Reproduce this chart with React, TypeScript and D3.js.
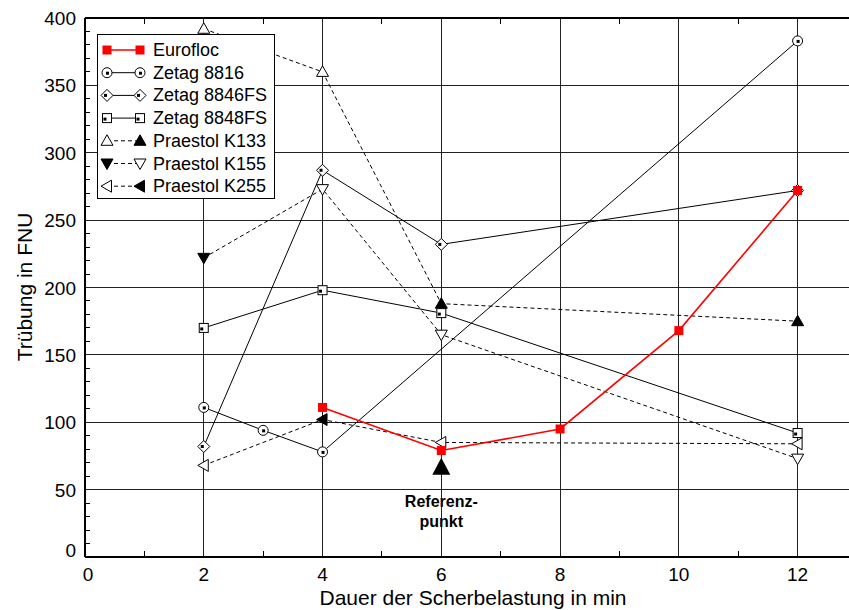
import React, { useEffect, useRef } from "react";
import * as d3 from "d3";

// Messwerte (Dauer in min / Trübung in FNU)
const EUROFLOC_X = [4, 6, 8, 10, 12];
const EUROFLOC_Y = [111, 79, 95, 168, 272];
const Z8816_X = [2, 3, 4, 12];
const Z8816_Y = [111, 94, 78, 383];
const Z8846_X = [2, 4, 6, 12];
const Z8846_Y = [82, 287, 232, 272];
const Z8848_X = [2, 4, 6, 12];
const Z8848_Y = [170, 198, 181, 92];
const K133_X = [2, 4, 6, 12];
const K133_Y = [392, 360, 188, 175];
const K133_FILLED = [false, false, true, true];
const K155_X = [2, 4, 6, 12];
const K155_Y = [222, 273, 165, 73];
const K155_FILLED = [true, false, false, false];
const K255_X = [2, 4, 6, 12];
const K255_Y = [68, 102, 85, 84];
const K255_FILLED = [false, true, false, false];

const REF_X = 6;
const REF_Y = 67;

const X_TICKS = [0, 2, 4, 6, 8, 10, 12];
const Y_TICKS = [0, 50, 100, 150, 200, 250, 300, 350, 400];

const LEGEND = ["Eurofloc", "Zetag 8816", "Zetag 8846FS", "Zetag 8848FS", "Praestol K133", "Praestol K155", "Praestol K255"];

type Marker = "redsq" | "circle" | "diamond" | "square" | "up" | "down" | "left";

const FONT = "'Liberation Sans', Arial, sans-serif";

const App: React.FC = () => {
  const ref = useRef<SVGSVGElement>(null);

  useEffect(() => {
    if (!ref.current) return;
    const svg = d3.select(ref.current);
    svg.selectAll("*").remove();

    const x = d3.scaleLinear().domain([0, 13]).range([85, 857]);
    const y = d3.scaleLinear().domain([0, 400]).range([557, 18]);

    const grid = svg.append("g").attr("shape-rendering", "crispEdges");
    // Gitterlinien
    grid.selectAll("line.h").data(Y_TICKS.slice(1)).enter().append("line")
      .attr("x1", x(0)).attr("x2", 849)
      .attr("y1", (d: number) => y(d)).attr("y2", (d: number) => y(d))
      .attr("stroke", "#222").attr("stroke-width", 1);
    grid.selectAll("line.v").data(X_TICKS.slice(1)).enter().append("line")
      .attr("x1", (d: number) => x(d)).attr("x2", (d: number) => x(d))
      .attr("y1", y(400)).attr("y2", y(0))
      .attr("stroke", "#222").attr("stroke-width", 1);

    // Nebenstriche
    const minorY = d3.range(10, 400, 10).filter((v: number) => v % 50 !== 0);
    grid.selectAll("line.my").data(minorY).enter().append("line")
      .attr("x1", x(0)).attr("x2", x(0) + 5)
      .attr("y1", (d: number) => y(d)).attr("y2", (d: number) => y(d))
      .attr("stroke", "#000");
    const minorX = [1, 3, 5, 7, 9, 11];
    grid.selectAll("line.mxb").data(minorX).enter().append("line")
      .attr("x1", (d: number) => x(d)).attr("x2", (d: number) => x(d))
      .attr("y1", y(0)).attr("y2", y(0) - 6)
      .attr("stroke", "#000");
    grid.selectAll("line.mxt").data(minorX).enter().append("line")
      .attr("x1", (d: number) => x(d)).attr("x2", (d: number) => x(d))
      .attr("y1", y(400)).attr("y2", y(400) + 6)
      .attr("stroke", "#000");

    // Achsen
    grid.append("line").attr("x1", x(0)).attr("x2", x(0)).attr("y1", y(400)).attr("y2", y(0))
      .attr("stroke", "#000").attr("stroke-width", 1.5);
    grid.append("line").attr("x1", x(0)).attr("x2", 849).attr("y1", y(0)).attr("y2", y(0))
      .attr("stroke", "#000").attr("stroke-width", 1.5);
    grid.append("line").attr("x1", x(0)).attr("x2", 849).attr("y1", y(400)).attr("y2", y(400))
      .attr("stroke", "#000").attr("stroke-width", 1.5);

    // Beschriftung
    svg.selectAll("text.yt").data(Y_TICKS).enter().append("text")
      .attr("x", 76).attr("y", (d: number) => y(d) + (d === 0 ? 0 : 7))
      .attr("text-anchor", "end")
      .style("font-family", FONT).style("font-size", "19px")
      .text((d: number) => String(d));
    svg.selectAll("text.xt").data(X_TICKS).enter().append("text")
      .attr("x", (d: number) => x(d) + (d === 0 ? 3 : 0)).attr("y", 581)
      .attr("text-anchor", "middle")
      .style("font-family", FONT).style("font-size", "19px")
      .text((d: number) => String(d));

    svg.append("text")
      .attr("x", 473).attr("y", 605)
      .attr("text-anchor", "middle")
      .style("font-family", FONT).style("font-size", "21px")
      .text("Dauer der Scherbelastung in min");
    svg.append("text")
      .attr("transform", "translate(32,287) rotate(-90)")
      .attr("text-anchor", "middle")
      .style("font-family", FONT).style("font-size", "21px")
      .text("Trübung in FNU");

    const drawMarker = (g: any, kind: Marker, cx: number, cy: number, filled: boolean) => {
      const fill = filled ? "#000" : "#fff";
      if (kind === "redsq") {
        g.append("rect").attr("x", cx - 4.5).attr("y", cy - 4.5).attr("width", 9).attr("height", 9)
          .attr("fill", "#ff0000");
      } else if (kind === "circle") {
        g.append("circle").attr("cx", cx).attr("cy", cy).attr("r", 5)
          .attr("fill", "#fff").attr("stroke", "#000");
        g.append("rect").attr("x", cx - 1).attr("y", cy - 1).attr("width", 3).attr("height", 3).attr("fill", "#000");
      } else if (kind === "diamond") {
        g.append("path").attr("d", `M${cx},${cy - 6}L${cx + 6},${cy}L${cx},${cy + 6}L${cx - 6},${cy}Z`)
          .attr("fill", "#fff").attr("stroke", "#000");
        g.append("rect").attr("x", cx - 3).attr("y", cy - 1.5).attr("width", 3).attr("height", 3).attr("fill", "#000");
      } else if (kind === "square") {
        g.append("rect").attr("x", cx - 4.5).attr("y", cy - 4.5).attr("width", 9).attr("height", 9)
          .attr("fill", "#fff").attr("stroke", "#000");
        g.append("rect").attr("x", cx - 3.5).attr("y", cy - 0.5).attr("width", 3).attr("height", 3).attr("fill", "#000");
      } else if (kind === "up") {
        g.append("path").attr("d", `M${cx},${cy - 6}L${cx + 6},${cy + 4.5}L${cx - 6},${cy + 4.5}Z`)
          .attr("fill", fill).attr("stroke", "#000");
      } else if (kind === "down") {
        g.append("path").attr("d", `M${cx},${cy + 6}L${cx + 6},${cy - 4.5}L${cx - 6},${cy - 4.5}Z`)
          .attr("fill", fill).attr("stroke", "#000");
      } else if (kind === "left") {
        g.append("path").attr("d", `M${cx - 6},${cy}L${cx + 4.5},${cy - 6}L${cx + 4.5},${cy + 6}Z`)
          .attr("fill", fill).attr("stroke", "#000");
      }
    };

    const series = [
      { xs: EUROFLOC_X, ys: EUROFLOC_Y, marker: "redsq" as Marker, color: "#ff0000", dash: null, width: 1.6, filled: null as boolean[] | null, legendFill: [true, true] },
      { xs: Z8816_X, ys: Z8816_Y, marker: "circle" as Marker, color: "#000", dash: null, width: 1, filled: null, legendFill: [false, false] },
      { xs: Z8846_X, ys: Z8846_Y, marker: "diamond" as Marker, color: "#000", dash: null, width: 1, filled: null, legendFill: [false, false] },
      { xs: Z8848_X, ys: Z8848_Y, marker: "square" as Marker, color: "#000", dash: null, width: 1, filled: null, legendFill: [false, false] },
      { xs: K133_X, ys: K133_Y, marker: "up" as Marker, color: "#000", dash: "4,3", width: 1, filled: K133_FILLED, legendFill: [false, true] },
      { xs: K155_X, ys: K155_Y, marker: "down" as Marker, color: "#000", dash: "4,3", width: 1, filled: K155_FILLED, legendFill: [true, false] },
      { xs: K255_X, ys: K255_Y, marker: "left" as Marker, color: "#000", dash: "4,3", width: 1, filled: K255_FILLED, legendFill: [false, true] },
    ];

    const plot = svg.append("g");
    // Linien zuerst, Eurofloc zuletzt (oben)
    [...series].reverse().forEach((s) => {
      const pts: [number, number][] = s.xs.map((v: number, i: number) => [x(v), y(s.ys[i])]);
      plot.append("path")
        .attr("d", d3.line()(pts))
        .attr("fill", "none")
        .attr("stroke", s.color)
        .attr("stroke-width", s.width)
        .attr("stroke-dasharray", s.dash);
    });
    [...series].reverse().forEach((s) => {
      s.xs.forEach((v: number, i: number) => {
        drawMarker(plot, s.marker, x(v), y(s.ys[i]), s.filled ? s.filled[i] : false);
      });
    });

    // Referenzpunkt
    const rx = x(REF_X);
    const ry = y(REF_Y);
    plot.append("path")
      .attr("d", `M${rx},${ry - 9}L${rx + 9},${ry + 8}L${rx - 9},${ry + 8}Z`)
      .attr("fill", "#000");
    const refText = plot.append("text")
      .attr("x", rx).attr("y", 507)
      .attr("text-anchor", "middle")
      .style("font-family", FONT).style("font-size", "16px").style("font-weight", "bold");
    refText.append("tspan").attr("x", rx).attr("dy", 0).text("Referenz-");
    refText.append("tspan").attr("x", rx).attr("dy", 20).text("punkt");

    // Legende
    const lg = svg.append("g");
    lg.append("rect").attr("x", 97.5).attr("y", 34.5).attr("width", 177).attr("height", 164)
      .attr("fill", "#fff").attr("stroke", "#000");
    series.forEach((s, i) => {
      const ly = 50 + i * 22.7;
      lg.append("line").attr("x1", 107).attr("x2", 140).attr("y1", ly).attr("y2", ly)
        .attr("stroke", s.color).attr("stroke-width", s.width).attr("stroke-dasharray", s.dash);
      drawMarker(lg, s.marker, 107, ly, s.legendFill[0]);
      drawMarker(lg, s.marker, 140, ly, s.legendFill[1]);
      lg.append("text").attr("x", 153).attr("y", ly + 6)
        .style("font-family", FONT).style("font-size", "18px")
        .text(LEGEND[i]);
    });
  }, []);

  return (
    <svg
      ref={ref}
      width={849}
      height={610}
      style={{ position: "absolute", left: 0, top: 0, background: "#fff" }}
    />
  );
};

export default App;
